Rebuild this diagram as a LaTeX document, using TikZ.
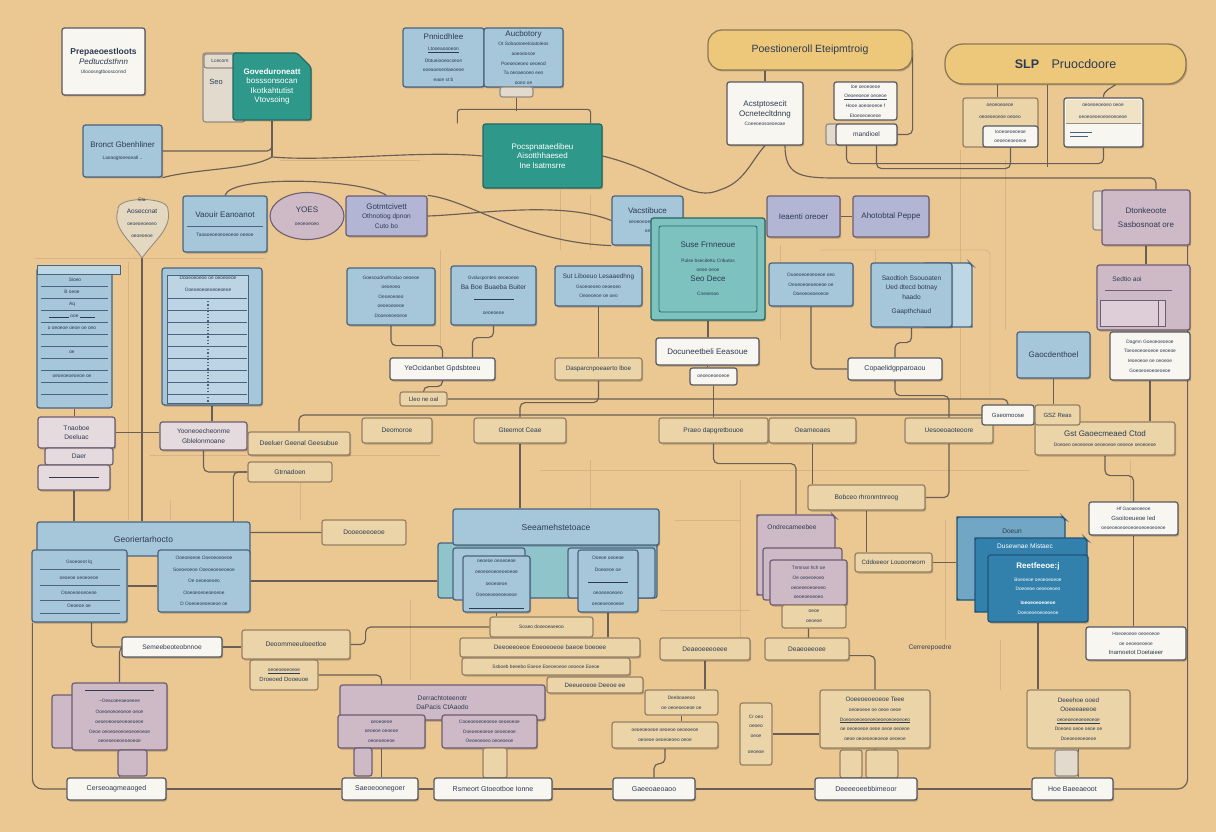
\documentclass[tikz,border=0pt]{standalone}
\usepackage{fontspec}
\setmainfont{Liberation Sans}
\usetikzlibrary{shapes.geometric,shapes.misc,calc,shadows}
\definecolor{bg}{RGB}{235,200,146}
\definecolor{ink}{RGB}{44,58,82}
\definecolor{blueF}{RGB}{166,198,218}
\definecolor{blueD}{RGB}{74,100,128}
\definecolor{blueL}{RGB}{190,215,228}
\definecolor{tealF}{RGB}{46,152,138}
\definecolor{tealD}{RGB}{38,104,98}
\definecolor{tealL}{RGB}{126,194,192}
\definecolor{purpF}{RGB}{206,185,199}
\definecolor{purpD}{RGB}{110,94,114}
\definecolor{lavF}{RGB}{178,182,212}
\definecolor{creamF}{RGB}{234,212,168}
\definecolor{creamD}{RGB}{150,128,100}
\definecolor{whiteF}{RGB}{248,246,240}
\definecolor{whiteD}{RGB}{88,88,96}
\definecolor{yelF}{RGB}{238,200,122}
\definecolor{yelD}{RGB}{140,120,86}
\definecolor{greyF}{RGB}{226,218,204}
\definecolor{greyD}{RGB}{150,140,128}
\definecolor{deepF}{RGB}{50,128,172}
\definecolor{deepD}{RGB}{34,84,120}
\definecolor{lineC}{RGB}{106,94,86}
\definecolor{lineL}{RGB}{214,180,134}
\pgfdeclarelayer{back}\pgfdeclarelayer{wires}
\pgfsetlayers{back,wires,main}
\newcommand\bx[7]{\node[#1,minimum width={(#5)-(#3)},minimum height={(#6)-(#4)}] (#2) at ({((#3)+(#5))/2},{((#4)+(#6))/2}) {#7};}
\newcommand\tl[1]{{\fontsize{4.8}{5.8}\selectfont #1}}
\newcommand\sm{\fontsize{6.6}{7.8}\selectfont}
\tikzset{
 box/.style={draw,rounded corners=2.5pt,line width=1.25pt,inner sep=1pt,align=center,text=ink,font=\fontsize{8}{9.6}\selectfont},
 bluebox/.style={box,fill=blueF,draw=blueD},
 lavbox/.style={box,fill=lavF,draw=purpD},
 tealbox/.style={box,fill=tealF,draw=tealD,text=white},
 teallbox/.style={box,fill=tealL,draw=tealD},
 purpbox/.style={box,fill=purpF,draw=purpD},
 creambox/.style={box,fill=creamF,draw=creamD},
 whitebox/.style={box,fill=whiteF,draw=whiteD},
 yelbox/.style={box,fill=yelF,draw=yelD,rounded corners=14pt},
 greybox/.style={box,fill=greyF,draw=greyD},
 deepbox/.style={box,fill=deepF,draw=deepD,text=white},
 pinkbox/.style={box,fill=purpF!45!whiteF,draw=purpD},
 chamf/.style={chamfered rectangle,chamfered rectangle corners=north east,chamfered rectangle xsep=7pt,chamfered rectangle ysep=7pt},
 conn/.style={draw=lineC,line width=1.15pt,rounded corners=5pt},
 faint/.style={draw=lineL,line width=0.9pt,rounded corners=5pt},
 rowline/.style={draw=blueD,line width=0.8pt},
 shd/.style={drop shadow={shadow xshift=1.2pt,shadow yshift=-1.5pt,opacity=0.22,fill=black}},
 txt/.style={text=ink,align=center,inner sep=0pt},
}
\begin{document}
\begin{tikzpicture}[x=1pt,y=-1pt]
\useasboundingbox (0,0) rectangle (1216,832);
\begin{pgfonlayer}{back}
\fill[bg] (0,0) rectangle (1216,832);
\end{pgfonlayer}

% ---------------- top row
\bx{whitebox,shd}{p1}{62}{28}{145}{95}{{\fontsize{8.5}{10.5}\selectfont\textbf{Prepaeoestloots}}\\ \textit{Pedtucdsthnn}\\ \tl{Ulooosngtboosconnd}}
\bx{greybox}{t0}{203}{53}{245}{122}{}
\node[txt,font=\fontsize{7.5}{8}\selectfont] (t0txt) at (216,82) {Seo};
\bx{greybox}{t0tab}{204}{54}{236}{68}{\tl{Lcecorn}}
\bx{tealbox,shd,chamf}{t1}{233}{53}{311}{120}{\textbf{Goveduroneatt}\\ bosssonsocan\\ Ikotkahtutist\\ Vtovsoing}
\bx{bluebox,shd}{br}{83}{125}{162}{177}{Bronct Gbenhliner\\[3pt] \tl{Laoaogtoeeoeatl ..}}
\bx{bluebox,shd}{dA}{403}{28}{484}{87}{Pnnicdhlee\\[2pt] \tl{\underline{Ltooeaoooeon}}\\[2pt] \tl{Dbtueiooeocseon}\\ \tl{ooeaoeseotaeoeoe}\\ \tl{eaoe st b}}
\bx{bluebox,shd}{dB}{484}{28}{563}{87}{Aucbotory\\ \tl{Ot Sobaotoeetoiatoieos}\\ \tl{aoeoeosoe}\\ \tl{Poeoeoeoeo oeoeod}\\ \tl{Ta oeoaeooeo eeo}\\ \tl{ooeo oe}}
\bx{greybox}{dtab}{500}{87}{533}{97}{}
\bx{tealbox,shd}{tc}{483}{124}{602}{188}{Pocspnataedibeu\\ Aisotthhaesed\\ Ine lsatmsrre}
\bx{yelbox,shd}{yh}{708}{30}{912}{70}{\fontsize{10.5}{12}\selectfont Poestioneroll Eteipmtroig}
\bx{whitebox,shd}{ac}{727}{82}{803}{145}{\fontsize{8}{10}\selectfont Acstptosecit\\ Ocnetecltdnng\\ \tl{Coeeoeosoeoeoae}}
\bx{whitebox}{sw1}{834}{82}{897}{120}{\tl{Ioe oeoeoeoe}\\ \tl{\underline{Oeoeeoeoe oeoeoe}}\\ \tl{Hooe aoeoeoeoe f}\\ \tl{Etoeoeoeoeoe}}
\bx{greybox}{sw2g}{826}{124}{842}{145}{}
\bx{whitebox,shd}{sw2}{836}{124}{897}{145}{\sm mandioel}
\bx{yelbox,shd,rounded corners=18pt}{sep}{945}{44}{1186}{84}{\fontsize{12.5}{14}\selectfont \textbf{SLP}\quad Pruocdoore}
\bx{creambox}{s1}{963}{98}{1038}{147}{}
\node[txt] (s1txt) at (1000,111) {\tl{oeoeoeoeoe}\\ \tl{oeoeoeoeoe oeoeo}};
\bx{whitebox}{s1b}{983}{126}{1038}{147}{\tl{Iooeoeoeoeoe}\\ \tl{oeoeoeoeoeoe}}
\bx{whitebox,shd}{s2}{1064}{98}{1143}{147}{}
\fill[creamF!60!whiteF] (1066,100) rectangle (1141,123);
\draw[greyD,line width=0.8pt] (1066,123) -- (1141,123);
\node[txt] (s2txt) at (1103,111) {\tl{oeoeoeoeoeo oeoe}\\ \tl{oeoeoeoeoeoeoeoeoe}};
\draw[blueD,line width=0.7pt] (1070,132) -- (1092,132) (1070,136) -- (1088,136);

% ---------------- second row
\filldraw[fill=greyF!70!creamF,draw=greyD,line width=0.9pt] (118,210) .. controls (115,196) and (170,196) .. (168,210) .. controls (172,228) and (155,240) .. (142,258) .. controls (130,240) and (112,228) .. (118,210) -- cycle;
\node[txt] (fun) at (142,218) {\tl{Eta}\\ {\fontsize{6.5}{7.5}\selectfont Aoseccnat}\\ \tl{oeoeoeoeoeo}\\ \tl{oeoeoeoe}};
\coordinate (funtip) at (142,258);
\bx{bluebox,shd}{vao}{183}{196}{267}{252}{Vaouir Eanoanot\\[10pt] \tl{Taoaoeoeoeoeoeoe oeeoe}}
\draw[blueD,line width=0.8pt] (187,226) -- (263,226);
\node[ellipse,draw=purpD,fill=purpF,line width=1.1pt,minimum width=74,minimum height=47,align=center,text=ink,font=\fontsize{8}{9.6}\selectfont] (yoes) at (307,216) {YOES\\[3pt] \tl{oeoeoeoeo}};
\bx{lavbox,shd}{got}{346}{196}{427}{236}{Gotmtcivett\\ \sm Othnotiog dpnon\\ \sm Cuto bo}
\bx{bluebox,shd}{vac}{612}{196}{683}{245}{Vacstibuce\\ \tl{oeoeoeoeoeoeoe}\\ \tl{oe}}
\bx{teallbox,shd}{suse}{651}{218}{765}{320}{Suse Frnneoue\\[5pt] \tl{Pulse bsecdettu Cnbutos}\\ \tl{oeoe oeoe}\\ Seo Dece\\[5pt] \tl{Cnesesao}}
\draw[tealD,line width=0.8pt,rounded corners=2pt] (659,226) rectangle (757,312);
\bx{lavbox,shd}{iea}{767}{196}{840}{237}{Ieaenti oreoer}
\bx{lavbox,shd}{aho}{853}{196}{929}{237}{Ahotobtal Peppe}
\bx{greybox}{dtontab}{1093}{191}{1112}{230}{}
\bx{purpbox,shd}{dton}{1102}{190}{1190}{245}{Dtonkeoote\\[4pt] Sasbosnoat ore}

% ---------------- third row
\bx{bluebox}{L1}{37}{268}{112}{408}{}
\filldraw[fill=blueL,draw=blueD,line width=0.8pt] (37,265) rectangle (120,274);
\foreach \yy in {286,298,310,322,334,346,358,370,382,394} \draw[rowline] (41,\yy) -- (108,\yy);
\node[txt] (L1a) at (75,280) {\tl{Sioeo}};
\node[txt] (L1b) at (72,292) {\tl{B oeoe}};
\node[txt] (L1c) at (72,304) {\tl{Aq}};
\node[txt] (L1d) at (72,316) {\tl{\rule{20pt}{0.3pt} ooe \rule{15pt}{0.3pt}}};
\node[txt] (L1e) at (72,328) {\tl{o oeoeoe oeoe oe oeo}};
\node[txt] (L1f) at (72,352) {\tl{oe}};
\node[txt] (L1g) at (72,376) {\tl{oeoeoeoeoeoe oe}};
\bx{bluebox,shd}{L2}{162}{268}{262}{405}{}
\filldraw[fill=blueF!75!white,draw=blueD,line width=0.8pt] (167,275) rectangle (248,403);
\node[txt] (L2a) at (208,284) {\tl{Dooeoeoeoe oe oeoeoeoe}\\ \tl{Ooeoeoeoeoeoeoeoe}};
\foreach \yy in {298,310,322,334,346,358,370,382,394} \draw[rowline] (168,\yy) -- (247,\yy);
\draw[blueD,dotted,line width=1.2pt] (208,298) -- (208,403);
\bx{bluebox,shd}{g1}{347}{268}{435}{325}{\tl{Goesoudnuthoduo oeoeoe}\\ \tl{oeoeoeo}\\ \tl{Oeoeoeoeo}\\ \tl{oeoeoeoeoe}\\ \tl{Dooeoeoeoeoe}}
\bx{bluebox,shd}{g2}{451}{266}{536}{325}{\tl{Gvdusponteo oeoeoeoe}\\ {\fontsize{6.6}{7.8}\selectfont Ba Boe Buaeba Buiter}\\ \tl{\rule{40pt}{0.3pt}}\\[6pt] \tl{oeoeoeoe}}
\bx{bluebox,shd}{g3}{555}{266}{642}{306}{{\fontsize{6.4}{7.8}\selectfont Sut Liboeuo Lesaaedhng}\\ \tl{Gsoeoeoeo oeoeoeo}\\ \tl{Oeoeoeoe oe oeo}}
\bx{bluebox,shd}{g4}{769}{263}{853}{306}{\tl{Ouoeoeoeoeoeoe oeo}\\ \tl{Oeoeoeoeoeoeoe oe}\\ \tl{Doeoeoeoeoeoe}}
\bx{box,fill=blueL,draw=blueD,chamf}{g5p}{925}{263}{972}{327}{}
\bx{bluebox,shd}{g5}{871}{263}{952}{327}{\sm Saodtioh Ssouoaten\\ \sm Ued dtecd botnay\\ \sm haado\\[4pt] \sm Gaapthchaud}
\bx{purpbox,shd}{sed}{1097}{265}{1190}{330}{}
\node[txt,font=\sm] (sedt) at (1127,279) {Sedtio aoi};
\draw[purpD,line width=0.6pt] (1105,290) -- (1172,290);
\filldraw[fill=purpF!70!white,draw=purpD,line width=0.8pt] (1100,300) rectangle (1165,326);
\draw[purpD,line width=0.8pt] (1158,300) -- (1158,326);
\bx{bluebox,shd}{gao}{1017}{332}{1090}{378}{Gaocdenthoel}
\bx{whitebox,shd}{dag}{1110}{332}{1190}{380}{\tl{Dagmn Goeoeoeoeoe}\\ \tl{Toeoeoeoeoeoe oeoeoe}\\ \tl{Ieoeoeoe oe oeoeoe}\\ \tl{Goeoeoeoeoeoeoe}}

% labels
\bx{whitebox,shd}{ye}{390}{358}{495}{380}{\fontsize{7}{8}\selectfont YeOcidanbet Gpdsbteeu}
\bx{creambox,shd}{das}{555}{358}{642}{380}{\fontsize{6.3}{7.5}\selectfont Dasparcnpoeaerto lboe}
\bx{whitebox,shd}{doc}{656}{338}{759}{365}{Docuneetbeli Eeasoue}
\bx{whitebox}{docs}{690}{368}{737}{385}{\tl{oeoeoeoeoeoe}}
\bx{whitebox,shd}{cop}{848}{358}{942}{380}{\fontsize{7}{8}\selectfont Copaelidgpparoaou}

% ---------------- fourth row
\bx{creambox}{lle}{400}{392}{447}{406}{\fontsize{6}{7}\selectfont Lleo ne oal}
\bx{pinkbox,shd}{pk1}{38}{417}{115}{448}{\sm Tnaoboe\\ \sm Deeluac}
\bx{pinkbox}{pk2}{45}{448}{113}{465}{\sm Daer}
\bx{pinkbox,shd}{pk3}{38}{465}{110}{490}{\tl{\rule{50pt}{0.3pt}}}
\bx{pinkbox,shd}{yoo}{160}{422}{247}{450}{\sm Yooneoecheonme\\ \sm Gblelonmoane}
\bx{creambox,shd}{dee}{248}{432}{350}{455}{\sm Deeluer Geenal Geesubue}
\bx{creambox}{gtr}{248}{462}{332}{482}{\sm Gtrnadoen}
\bx{creambox,shd}{deo}{362}{418}{432}{443}{\sm Deomoroe}
\bx{creambox,shd}{gte}{474}{418}{566}{443}{\sm Gteemot Ceae}
\bx{creambox,shd}{pra}{659}{418}{768}{443}{\sm Praeo dapgretbouoe}
\bx{creambox,shd}{oea}{769}{418}{856}{443}{\sm Oeameoaes}
\bx{creambox,shd}{ues}{905}{418}{993}{443}{\sm Uesoeoaoteoore}
\bx{creambox,shd}{gst}{1035}{422}{1175}{455}{Gst Gaoecmeaed Ctod\\ \tl{Doeoeo oeoeoeoe oeoeoeoe oeoeoe oeoeoeoe}}
\bx{whitebox}{gse}{982}{405}{1034}{425}{\fontsize{6}{7}\selectfont Gseomoose}
\bx{creambox}{gsz}{1035}{405}{1080}{425}{\fontsize{6}{7}\selectfont GSZ Reas}
\bx{creambox,shd}{bob}{808}{485}{925}{510}{\sm Bobceo rhronmtnreog}
\bx{creambox}{doo}{322}{520}{406}{545}{\sm Dooeoeeoeoe}

% ---------------- fifth row
\bx{bluebox}{geoH}{37}{522}{250}{556}{\fontsize{8.5}{10}\selectfont Georiertarhocto}
\bx{bluebox,shd}{geoL}{32}{550}{127}{622}{}
\node[txt] (gLa) at (79,562) {\tl{Gsoeoeot lq}};
\node[txt] (gLb) at (79,578) {\tl{oeoeoe oeoeoeoe}};
\node[txt] (gLc) at (79,593) {\tl{Ooeoeoeoeoeoe}};
\node[txt] (gLd) at (79,606) {\tl{Oeoeoe oe}};
\foreach \yy in {569,585,600,613} \draw[rowline] (40,\yy) -- (120,\yy);
\bx{bluebox,shd}{geoR}{158}{550}{250}{612}{\tl{Ooeoeoeoe Ooeoeoeoeoe}\\[2pt] \tl{Soeoeoeoe Ooeoeoeoeoeoe}\\[2pt] \tl{Oe oeoeoeoeo}\\[2pt] \tl{Ooeoeoeoeoeoeoe}\\[2pt] \tl{D Ooeoeoeoeoeoe oe}}
\bx{box,fill=tealL!60!blueF,draw=blueD}{seeBack}{438}{543}{657}{598}{}
\bx{bluebox,shd}{seeH}{453}{509}{659}{545}{\fontsize{8.5}{10}\selectfont Seeamehstetoace}
\bx{bluebox}{seeLb}{453}{548}{525}{600}{}
\bx{bluebox,shd}{seeL}{463}{556}{530}{612}{\tl{oeoeoe oeoeoeoe}\\[2pt] \tl{oeoeoeoeoeoeoeoe}\\[2pt] \tl{oeoeoeoe}\\[2pt] \tl{Ooeoeoeoeoeoeoe}\\[2pt] \tl{\rule{55pt}{0.3pt}}}
\bx{bluebox}{seeRb}{568}{548}{655}{598}{}
\bx{bluebox,shd}{seeR}{578}{550}{638}{612}{\tl{Ooeoe oeoeoe}\\[2pt] \tl{Doeoeoe oe}\\[2pt] \tl{\rule{40pt}{0.3pt}}\\[2pt] \tl{oeoeoeoeoeo}\\[2pt] \tl{oeoeoeoeoeoe}}
\bx{purpbox,chamf}{pBack}{757}{515}{835}{595}{}
\node[txt,font=\sm] (pBt) at (792,527) {Ondrecameebee};
\bx{purpbox}{pMid}{763}{548}{842}{600}{}
\bx{purpbox,shd}{pFront}{770}{560}{847}{605}{\tl{Tnmnan hch oe}\\ \tl{Oe oeoeoeoeo}\\ \tl{oeoeoeoeoeoeo}\\ \tl{oeoeoeoeoeo}}
\bx{creambox}{pFoot}{782}{605}{846}{628}{\tl{oeoe}\\ \tl{oeoeoe}}
\bx{creambox,shd}{cdd}{855}{553}{932}{572}{\fontsize{6.2}{7.5}\selectfont Cddoeeor Louoomeorn}
\bx{box,fill=blueF!55!deepF,draw=deepD,chamf}{bBack}{957}{517}{1065}{600}{}
\node[txt,font=\sm] (bBt) at (1012,531) {Doeun};
\bx{deepbox,chamf}{bMid}{975}{538}{1087}{612}{}
\node[txt,font=\sm,text=white] (bMt) at (1025,546) {Dusewnae Mistaec};
\bx{deepbox,shd}{bFront}{988}{555}{1088}{622}{\textbf{Reetfeeoe:j}\\[3pt] \tl{Boeoeoe oeoeoeoeoe}\\ \tl{Doeoeoe oeoeoeoeo}\\[4pt] \tl{\textbf{Ioeoeoeoeoeoe}}\\ \tl{Doeoeoeoeoeoeoe}}
\bx{whitebox,shd}{hf}{1089}{502}{1178}{535}{\tl{Hf Gaoaeoeeoe}\\ {\fontsize{6}{7}\selectfont Gsoitoeueoe Ied}\\ \tl{oeoeoeoeoeoeoeoeoeoeoeoe}}
\bx{whitebox,shd}{ina}{1086}{627}{1186}{660}{\tl{Hoeoeoeoe oeoeoeoe}\\ \tl{oe oeoeoeoeoe}\\ {\fontsize{6}{7}\selectfont Inamoetot Doetaieer}}
\node[txt,font=\sm] (cer) at (930,648) {Cerrerepoedre};

% ---------------- sixth row
\bx{whitebox,shd}{sem}{122}{637}{222}{657}{\sm Semeebeoteobnnoe}
\bx{creambox,shd}{deom}{242}{630}{350}{659}{\sm Deoommeeuloeetloe}
\bx{creambox}{droe}{250}{660}{318}{690}{\tl{\underline{oeoeoeoeoeoe}}\\ {\fontsize{6}{7}\selectfont Droeoed Dooeuoe}}
\bx{creambox}{soa}{490}{617}{593}{637}{\tl{Soaeo dooeoeaeeoo}}
\bx{creambox,shd}{deeo}{460}{638}{640}{657}{\fontsize{6.3}{7.5}\selectfont Deeoeeoeoe Eoeoeoeoe baeoe boeoee}
\bx{creambox,shd}{ssb}{462}{658}{630}{675}{\tl{Ssboeb beeebo Eoeoe Eoeoeoeoe oeoeoe Eoeoe}}
\bx{creambox,shd}{deeu}{547}{677}{643}{693}{\fontsize{6.2}{7.5}\selectfont Deeueoeoe Deeoe ee}
\bx{creambox,shd}{deae}{660}{638}{750}{660}{\sm Deaeoeeeoeee}
\bx{creambox,shd}{deae2}{765}{638}{849}{660}{\sm Deaeoeeoee}
\bx{creambox}{deeb}{645}{690}{718}{715}{\tl{Deeboaeeoo}\\ \tl{oe oeoeoeoeoe oe}}
\bx{creambox,shd}{dlin}{612}{722}{718}{748}{\tl{oeoeoeoeoe oeoeoe oeoeoeoe}\\ \tl{oeoeoe oeoeoeoeo oeoe}}
\bx{creambox}{smc}{740}{703}{772}{765}{\tl{Cr oeo}\\ \tl{oeoeo}\\ \tl{oeoe}\\[6pt] \tl{oeoeoe}}
\bx{creambox,shd}{ooe}{820}{690}{930}{748}{{\fontsize{6.3}{7.5}\selectfont Ooeeoeoeoeoe Teee}\\ \tl{oeoeoeoe oe oeoe oeoe}\\ \tl{\underline{Doeoeoeoeoeoeoeoeoeoeoeoeo}}\\ \tl{oe oeoeoeoe oeoe oeoe oeoeoe}\\ \tl{oeoe oeoeoeoeoeoe oeoeoe}}
\bx{creambox}{ic1}{840}{750}{862}{778}{}
\bx{creambox}{ic2}{866}{750}{898}{778}{}
\bx{creambox,shd}{deeh}{1027}{690}{1130}{748}{{\fontsize{6.3}{7.5}\selectfont Deeehoe ooed}\\ {\fontsize{6.3}{7.5}\selectfont Ooeeeaeeoe}\\ \tl{\underline{oeoeoeoeoeoeoeoe}}\\ \tl{Doeoeo oeoe oeoe oe}\\ \tl{Doeoeoeoeoeoe}}
\bx{greybox}{ic3}{1055}{750}{1078}{776}{}
\bx{purpbox}{pl0}{52}{695}{75}{748}{}
\bx{purpbox,shd}{pl}{72}{683}{167}{750}{\tl{\rule{70pt}{0.4pt}}\\[2pt] \tl{\textasciitilde Oeacoeeaeoeeee}\\[2pt] \tl{Ooeoeoeoeoeoe oeoe}\\ \tl{oeoeoeoeoeoeoeoeoe}\\ \tl{Oeoe oeoeoeoeoeoeoeoeoe}\\ \tl{oeoeoeoeoeoeoeoe}}
\bx{purpbox}{ic4}{118}{750}{147}{776}{}
\bx{purpbox,shd}{ph}{340}{685}{545}{720}{\sm Derrachtoteenotr\\ \sm DaPacis CtAaodo}
\bx{purpbox,shd}{ps1}{338}{715}{425}{748}{\tl{oeoeoeoe}\\ \tl{oeoeoe oeoeoe}\\ \tl{oeoeoeoeoe}}
\bx{purpbox,shd}{ps2}{442}{715}{537}{748}{\tl{Cooeoeoeoeoeoe oeoeoeoe}\\ \tl{Doeoeoeoeoe oeoeoeoe}\\ \tl{Oeoeoeoeo oeoeoeoe}}
\bx{purpbox}{ic5}{354}{748}{372}{776}{}
\bx{creambox}{ic6}{483}{748}{507}{778}{}

% ---------------- bottom labels
\bx{whitebox,shd}{b1}{67}{778}{166}{800}{\fontsize{7}{8}\selectfont Cerseoagmeaoged}
\bx{whitebox,shd}{b2}{342}{778}{418}{800}{\fontsize{7}{8}\selectfont Saeoeoonegoer}
\bx{whitebox,shd}{b3}{434}{778}{552}{800}{\fontsize{7}{8}\selectfont Rsmeort Gtoeotboe Ionne}
\bx{whitebox,shd}{b4}{613}{778}{695}{800}{\fontsize{7}{8}\selectfont Gaeeoaeoaoo}
\bx{whitebox,shd}{b5}{815}{778}{917}{800}{\fontsize{7}{8}\selectfont Deeeeoeebbimeoor}
\bx{whitebox,shd}{b6}{1032}{778}{1113}{800}{\fontsize{7}{8}\selectfont Hoe Baeeaeoot}

% ---------------- connectors
\begin{pgfonlayer}{wires}
% faint grid lines
\draw[faint] (128,262) -- (128,520);
\draw[faint] (35,258) -- (265,258);
\draw[faint] (440,250) -- (440,350);
\draw[faint] (560,190) -- (560,250);
\draw[faint] (590,195) -- (590,250);
\draw[faint] (780,245) -- (780,340);
\draw[faint] (960,150) -- (960,400);
\draw[faint] (1005,160) -- (1005,330);
\draw[faint] (820,250) -- (990,250) -- (990,395);
\draw[faint] (300,460) -- (300,520);
\draw[faint] (150,455) -- (440,455);
\draw[faint] (540,470) -- (1030,470);
\draw[faint] (740,480) -- (740,640);
\draw[faint] (590,460) -- (590,510);
\draw[faint] (945,520) -- (945,640);
\draw[faint] (1000,640) -- (1000,690);
\draw[faint] (675,520) -- (740,520);
\draw[faint] (410,600) -- (410,680);
\draw[faint] (660,610) -- (750,610);
\draw[faint] (875,250) -- (875,265);
\draw[faint] (1130,460) -- (1130,500);
\draw[faint] (170,500) -- (170,520);
\draw[faint] (280,160) -- (420,160);
% top
\coordinate (j1) at (272,157);
\draw[conn] (t1.south) |- (br.east);
\draw[conn] (t1.south) -- (j1);
\draw[conn] (j1) .. controls (330,162) and (420,150) .. (tc.west);
\draw[conn] (j1) .. controls (250,170) and (200,168) .. (br.south east);
\draw[conn] (vao.north) .. controls (230,175) and (360,178) .. (got.north);
\draw[conn] (got.east) .. controls (470,215) and (560,200) .. (vac.west);
\draw[conn] (got.north east) .. controls (470,200) and (520,242) .. (vac.south west);
\draw[conn] (dtab.south) -- ++(0,13);
\draw[conn,rounded corners=3pt] ($(tc.north west)+(-25,0)$) -- ++(0,-14) -| ($(tc.north east)+(-12,0)$);
\draw[conn] (tc.east) .. controls (660,170) and (690,200) .. (720,190) .. controls (745,180) and (752,160) .. (ac.south);
\draw[conn] (ac.north) -- (ac.north |- yh.south);
\draw[conn] (yh.east) |- (sw2.east);
\draw[conn] ($(ac.south)+(20,0)$) .. controls (785,175) and (800,178) .. (840,178) -| ($(dton.north)+(10,0)$);
\draw[conn] ($(sw2.south)+(-20,0)$) |- ($(s2.south)+(0,16)$) -- (s2.south);
\draw[conn] ($(sw2.south)+(10,0)$) |- ($(s1b.south)+(0,21)$) -- (s1b.south);
\draw[conn] ($(s1.north)+(-3,0)$) -- ++(0,-14);
\draw[conn] (s2.north) .. controls (1103,90) and (1112,88) .. ($(sep.south)+(50,0)$);
\draw[conn] ($(sep.south)+(-18,0)$) -- ++(0,82);
\draw[conn] (iea.east) -- (aho.west);
\draw[conn] (dton.south) -- (dton.south |- sed.north);
% middle
\draw[conn] (funtip) -- (funtip |- geoH.north);
\draw[conn] (L2.south) -- (L2.south |- yoo.north);
\draw[conn] (L1.south) -- (L1.south |- pk1.north);
\draw[conn] (pk1.east) -- (pk1.east -| yoo.west);
\draw[conn] (pk3.south) -- (pk3.south |- geoH.north);
\draw[conn] (yoo.south) |- (gtr.west);
\draw[conn] (yoo.east) -- (yoo.east -| dee.west);
\draw[conn] (gtr.west) -- ++(-14,0) |- (doo.west);
\draw[conn] (geoL.east) -- (geoL.east -| geoR.west);
\draw[conn] (geoR.east) -- (geoR.east -| seeBack.west);
\draw[conn] (lle.east) -| (gse.north);
\draw[conn] (dee.north) |- (gsz.west);
\draw[conn] (g1.south) -- ++(0,20) -| (ye.north);
\draw[conn] (g2.south) -- ++(0,12) -| ($(ye.north)+(30,0)$);
\draw[conn] (g3.south) -- (g3.south |- das.north);
\draw[conn] (suse.south) -- (suse.south |- doc.north);
\draw[conn] (doc.south) -- (doc.south |- docs.north);
\draw[conn] (docs.south) -- (docs.south |- pra.north);
\draw[conn] (g4.south) |- (cop.west);
\draw[conn] (g5.south) -- ++(0,15) -| (cop.north);
\draw[conn] (cop.south) -- ++(0,15) -| (ues.north);
\draw[conn] (gao.south) -- (gao.south |- gsz.north);
\draw[conn] (dag.south) -- (dag.south |- gst.north);
\draw[conn] (ye.south) -- ++(0,6) -| (lle.north);
\draw[conn] (das.south) -- ++(0,22) -| (gte.north);
\draw[conn] (gte.south) -- (gte.south |- seeH.north);
\draw[conn] (pra.south) -- ++(0,20) -| (pBack.north);
\draw[conn] (oea.south) -- (oea.south |- bob.north);
\draw[conn] (ues.south) |- (bob.east);
\draw[conn] (gst.south) -- ++(0,20) -| (hf.north);
\draw[conn] (hf.south) -- (hf.south |- ina.north);
\draw[conn] (bob.south) -- (bob.south |- cdd.north);
\draw[conn] (cdd.east) -- (cdd.east -| bBack.west);
\draw[conn] (bFront.south) -- (bFront.south |- deeh.north);
\draw[conn] (pFront.south) -- ++(0,50) -| (ooe.north);
% lower
\draw[conn] (seeL.south) -- (seeL.south |- soa.north);
\draw[conn] (seeR.south) -- (seeR.south |- deeo.north);
\draw[conn] (deae.south) -- (deae.south |- deeb.north);
\draw[conn] (deeb.south) -- (deeb.south |- dlin.north);
\draw[conn] (dlin.south) -- ++(0,15) -| (b4.north);
\draw[conn] (ooe.south) -- (ooe.south |- b5.north);
\draw[conn] (deeh.south) -- (deeh.south |- b6.north);
\draw[conn] (smc.east) -- (smc.east -| ooe.west);
\draw[conn] (ps1.south) -- (ps1.south |- b2.north);
\draw[conn] (ps2.south) -- (ps2.south |- b3.north);
\draw[conn] (pl.south) -- (pl.south |- b1.north);
\draw[conn] (sem.west) -| (pl.north);
\draw[conn] ($(geoL.south)+(12,0)$) |- (sem.west);
\draw[conn] (sem.east) -- (sem.east -| deom.west);
\draw[conn] (droe.east) -| (ps1.north);
\draw[conn] (deom.east) -- ++(15,0) |- (soa.west);
% bottom bus
\draw[conn,rounded corners=10pt] ($(geoL.south west)+(1,0)$) |- (b1.west);
\draw[conn] (b1.east) -- (b2.west);
\draw[conn] (b2.east) -- (b3.west);
\draw[conn] (b3.east) -- (b4.west);
\draw[conn] (b4.east) -- (b5.west);
\draw[conn] (b5.east) -- (b6.west);
\draw[conn,rounded corners=10pt] (b6.east) -| ($(dton.south east)+(-3,0)$);
\end{pgfonlayer}
\end{tikzpicture}
\end{document}
